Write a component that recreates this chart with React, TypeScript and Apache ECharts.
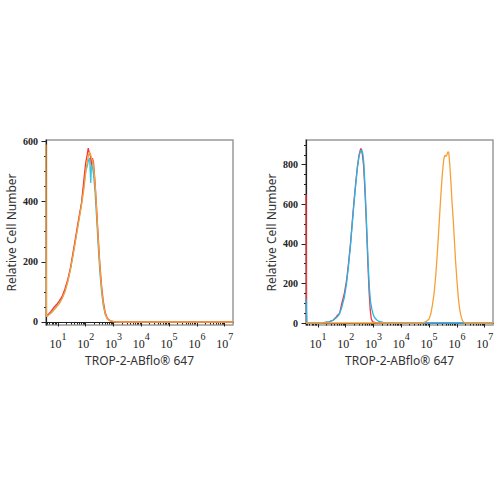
import React, { useEffect, useRef } from "react";
import * as echarts from "echarts";

// x values are log10 of fluorescence intensity
const X_MIN = 0.57;
const X_MAX = 7.3;
const decadeLabels = [1, 2, 3, 4, 5, 6, 7];
const leftYLabels = [0, 200, 400, 600];
const rightYLabels = [0, 200, 400, 600, 800];
const xTitle = "TROP-2-ABflo® 647";
const yTitle = "Relative Cell Number";

const leftCyan: [number, number][] = [
  [0.57, 18], [0.65, 22], [0.75, 30], [0.85, 40], [0.95, 52], [1.05, 62], [1.15, 80], [1.25, 102],
  [1.35, 135], [1.45, 175], [1.55, 228], [1.65, 282], [1.75, 338], [1.85, 398], [1.93, 450],
  [2.0, 500], [2.06, 520], [2.1, 538], [2.14, 546], [2.18, 462], [2.21, 528], [2.24, 518],
  [2.28, 490], [2.33, 440], [2.39, 350], [2.45, 250], [2.51, 165], [2.57, 100], [2.63, 55],
  [2.7, 25], [2.78, 10], [2.88, 3], [3.0, 1], [3.1, 0], [7.3, 0],
];
const leftRed: [number, number][] = [
  [0.57, 20], [0.65, 25], [0.75, 35], [0.85, 48], [0.95, 58], [1.05, 70], [1.15, 85], [1.25, 110],
  [1.35, 140], [1.45, 180], [1.55, 235], [1.65, 290], [1.75, 345], [1.85, 395], [1.93, 470],
  [2.0, 530], [2.05, 555], [2.09, 578], [2.13, 562], [2.17, 552], [2.21, 522], [2.24, 545],
  [2.28, 530], [2.33, 470], [2.39, 380], [2.45, 280], [2.51, 190], [2.57, 120], [2.63, 70],
  [2.7, 32], [2.78, 12], [2.88, 4], [3.0, 1], [3.1, 0], [7.3, 0],
];
const leftOrange: [number, number][] = [
  [0.57, 590], [0.585, 18], [0.65, 22], [0.75, 30], [0.85, 40], [0.95, 50], [1.05, 62], [1.15, 78],
  [1.25, 100], [1.35, 132], [1.45, 175], [1.55, 225], [1.65, 280], [1.75, 335], [1.85, 390],
  [1.93, 440], [2.0, 500], [2.05, 530], [2.1, 555], [2.14, 565], [2.18, 555], [2.22, 540],
  [2.26, 532], [2.3, 500], [2.35, 440], [2.41, 340], [2.47, 240], [2.53, 155], [2.59, 92],
  [2.65, 50], [2.72, 22], [2.8, 8], [2.92, 3], [3.05, 1], [3.15, 0], [7.3, 0],
];

const rightRed: [number, number][] = [
  [0.57, 650], [0.59, 0], [1.0, 0], [1.2, 2], [1.4, 6], [1.55, 15], [1.65, 30], [1.72, 42],
  [1.78, 48], [1.85, 95], [1.95, 150], [2.03, 215], [2.1, 300], [2.17, 400], [2.24, 520],
  [2.3, 620], [2.36, 710], [2.42, 790], [2.48, 850], [2.53, 878], [2.56, 882], [2.6, 850],
  [2.64, 800], [2.68, 700], [2.72, 580], [2.76, 440], [2.8, 290], [2.84, 160], [2.88, 70],
  [2.92, 20], [2.97, 6], [3.1, 1], [3.3, 0], [7.3, 0],
];
const rightCyan: [number, number][] = [
  [0.57, 120], [0.6, 0], [1.0, 0], [1.2, 2], [1.4, 6], [1.55, 14], [1.65, 25], [1.75, 40],
  [1.85, 75], [1.95, 130], [2.03, 200], [2.1, 290], [2.17, 390], [2.24, 510], [2.3, 610],
  [2.36, 700], [2.42, 785], [2.48, 845], [2.53, 868], [2.57, 875], [2.61, 860], [2.65, 810],
  [2.69, 700], [2.73, 570], [2.77, 430], [2.81, 290], [2.85, 180], [2.89, 110], [2.94, 70],
  [2.99, 42], [3.05, 25], [3.12, 15], [3.2, 8], [3.35, 3], [3.5, 1], [3.6, 0], [7.3, 0],
];
const rightOrange: [number, number][] = [
  [0.57, 0], [4.7, 0], [4.8, 2], [4.9, 8], [5.0, 20], [5.06, 45], [5.12, 90], [5.18, 150],
  [5.24, 240], [5.3, 360], [5.36, 500], [5.42, 640], [5.48, 760], [5.53, 830], [5.57, 848],
  [5.61, 842], [5.64, 850], [5.68, 866], [5.71, 860], [5.75, 790], [5.79, 700], [5.83, 600],
  [5.87, 520], [5.91, 420], [5.95, 320], [6.0, 220], [6.05, 130], [6.1, 70], [6.15, 35],
  [6.2, 12], [6.26, 3], [6.32, 0], [7.3, 0],
];

const RED = "#f03a3a";
const ORANGE = "#f7a038";
const CYAN_L = "#33c6dc";
const CYAN_R = "#1eb6ee";

const minorX: number[] = [];
for (let n = 0; n <= 7; n++) {
  for (let k = 2; k <= 9; k++) {
    const v = Math.log10(k) + n;
    if (v > X_MIN && v < X_MAX) minorX.push(v);
  }
}
const minorY = (max: number) => {
  const r: number[] = [];
  for (let v = 0; v <= max; v += 50) r.push(v);
  return r;
};

const serif = "Liberation Serif";
const sans = "Noto Sans";

function makeX(gridIndex: number, minor: boolean): any {
  return {
    type: "value",
    gridIndex,
    position: "bottom",
    offset: 0,
    min: X_MIN,
    max: X_MAX,
    splitLine: { show: false },
    axisLine: minor ? { show: false } : { show: true, lineStyle: { color: "#222", width: 1.2 } },
    axisTick: minor
      ? { show: true, customValues: minorX, length: 2.5, lineStyle: { color: "#222", width: 1 } }
      : { show: true, customValues: decadeLabels, length: 4.5, lineStyle: { color: "#222", width: 1 } },
    axisLabel: minor
      ? { show: false }
      : {
          show: true,
          customValues: decadeLabels,
          margin: 6,
          formatter: (v: number) => `{b|10}{s|${v}}`,
          rich: {
            b: { fontFamily: serif, fontSize: 12, color: "#222", padding: [7, 0, 0, 0], verticalAlign: "bottom" },
            s: { fontFamily: serif, fontSize: 10, color: "#222", verticalAlign: "top" },
          },
        },
    name: minor ? "" : xTitle,
    nameLocation: "middle",
    nameGap: 29,
    nameTextStyle: { fontFamily: sans, fontSize: 12, color: "#333" },
  };
}

function makeY(gridIndex: number, max: number, labels: number[], minor: boolean): any {
  return {
    type: "value",
    gridIndex,
    position: "left",
    offset: 0,
    min: -10,
    max,
    splitLine: { show: false },
    axisLine: minor ? { show: false } : { show: true, lineStyle: { color: "#222", width: 1.2 } },
    axisTick: minor
      ? { show: true, customValues: minorY(max), length: 2, lineStyle: { color: "#222", width: 1 } }
      : { show: true, customValues: labels, length: 4.5, lineStyle: { color: "#222", width: 1 } },
    axisLabel: minor
      ? { show: false }
      : {
          show: true,
          customValues: labels,
          margin: 8,
          fontFamily: serif,
          fontSize: 10,
          fontWeight: "bold",
          color: "#222",
        },
    name: minor ? "" : yTitle,
    nameLocation: "middle",
    nameGap: 29,
    nameTextStyle: { fontFamily: sans, fontSize: 12, color: "#333" },
  };
}

function line(data: [number, number][], color: string, xi: number, yi: number, z: number): any {
  return {
    type: "line",
    data,
    xAxisIndex: xi,
    yAxisIndex: yi,
    showSymbol: false,
    symbol: "none",
    lineStyle: { color, width: 1.3 },
    itemStyle: { color },
    z,
    clip: true,
  };
}

export default function App() {
  const ref = useRef<HTMLDivElement>(null);
  useEffect(() => {
    if (!ref.current) return;
    const chart = echarts.init(ref.current, undefined, { renderer: "svg" });
    chart.setOption({
      animation: false,
      backgroundColor: "#fff",
      grid: [
        { left: 46, top: 140, width: 187, height: 185, show: true, borderColor: "#999", borderWidth: 1.5, backgroundColor: "transparent" },
        { left: 306, top: 140, width: 187, height: 185, show: true, borderColor: "#999", borderWidth: 1.5, backgroundColor: "transparent" },
      ],
      xAxis: [makeX(0, false), makeX(0, true), makeX(1, false), makeX(1, true)],
      yAxis: [
        makeY(0, 605, leftYLabels, false),
        makeY(0, 605, leftYLabels, true),
        makeY(1, 925, rightYLabels, false),
        makeY(1, 925, rightYLabels, true),
      ],
      series: [
        line(leftCyan, CYAN_L, 0, 0, 2),
        line(leftRed, RED, 0, 0, 3),
        line(leftOrange, ORANGE, 0, 0, 4),
        line(rightRed, RED, 2, 2, 2),
        line(rightCyan, CYAN_R, 2, 2, 3),
        line(rightOrange, ORANGE, 2, 2, 4),
      ],
    });
    return () => chart.dispose();
  }, []);
  return <div ref={ref} style={{ position: "absolute", left: 0, top: 0, width: 500, height: 500 }} />;
}
